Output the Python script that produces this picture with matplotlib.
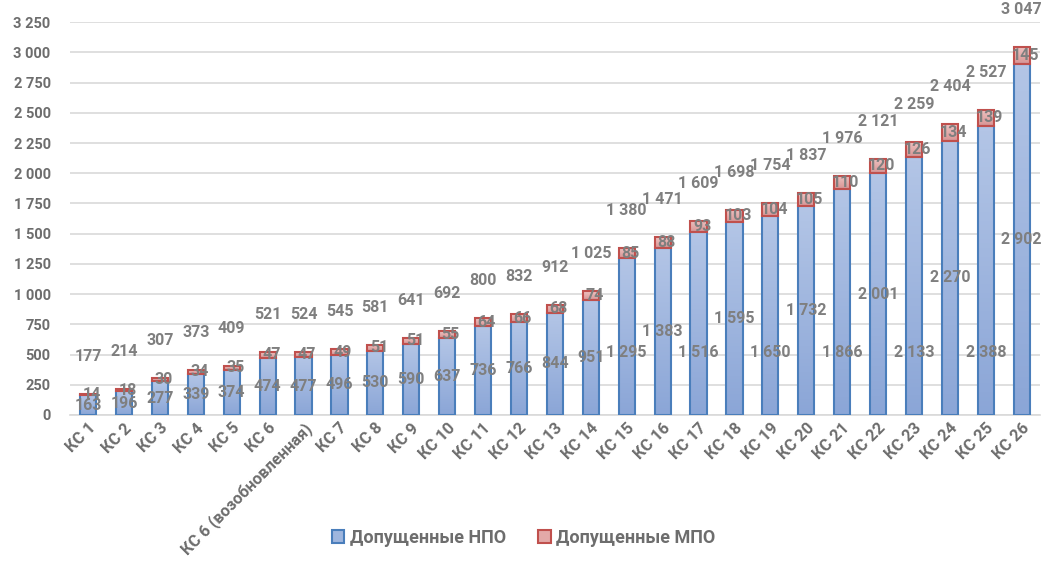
import matplotlib
matplotlib.use("Agg")
import matplotlib.pyplot as plt
import numpy as np
from matplotlib.colors import LinearSegmentedColormap
from matplotlib.ticker import FuncFormatter

plt.rcParams["font.family"] = ["Roboto", "DejaVu Sans"]

categories = ["КС 1", "КС 2", "КС 3", "КС 4", "КС 5", "КС 6", "КС 6 (возобновленная)",
              "КС 7", "КС 8", "КС 9", "КС 10", "КС 11", "КС 12", "КС 13", "КС 14",
              "КС 15", "КС 16", "КС 17", "КС 18", "КС 19", "КС 20", "КС 21", "КС 22",
              "КС 23", "КС 24", "КС 25", "КС 26"]
npo = [163, 196, 277, 339, 374, 474, 477, 496, 530, 590, 637, 736, 766, 844, 951,
       1295, 1383, 1516, 1595, 1650, 1732, 1866, 2001, 2133, 2270, 2388, 2902]
mpo = [14, 18, 30, 34, 35, 47, 47, 49, 51, 51, 55, 64, 66, 68, 74,
       85, 88, 93, 103, 104, 105, 110, 120, 126, 134, 139, 145]

npo = np.array(npo)
mpo = np.array(mpo)
total = npo + mpo
x = np.arange(len(categories))

gray = "#7f7f7f"
tick_gray = "#6d6d6d"


def fmt(v):
    return f"{int(v):,}".replace(",", " ")


fig = plt.figure(figsize=(10.47, 5.7), dpi=100)
ax = fig.add_axes([0.067, 0.272, 0.926, 0.689])

w = 0.45
blue_bars = ax.bar(x, npo, width=w, color="#9fb6de", edgecolor="#4a7ebb", linewidth=1.5,
                   label="Допущенные НПО", zorder=3)
red_bars = ax.bar(x, mpo, width=w, bottom=npo, color="#e3a9a8", edgecolor="#c0504d",
                  linewidth=1.5, label="Допущенные МПО", zorder=3)

# vertical gradient inside each bar, like the Excel fill
blue_grad = LinearSegmentedColormap.from_list("bg", ["#8ba6d7", "#b3c5e6"])
red_grad = LinearSegmentedColormap.from_list("rg", ["#d99594", "#eec3c2"])
grad = np.linspace(0, 1, 64).reshape(-1, 1)
for bars, cmap in [(blue_bars, blue_grad), (red_bars, red_grad)]:
    for b in bars:
        x0, y0 = b.get_x(), b.get_y()
        im = ax.imshow(grad, cmap=cmap, origin="lower", aspect="auto", zorder=3.5,
                       extent=[x0, x0 + b.get_width(), y0, y0 + b.get_height()])
        im.set_clip_path(b)
        b.set_facecolor("none")
        b.set_zorder(4)

label_kw = dict(ha="center", va="center", fontsize=11.5, fontweight="bold", color=gray, zorder=5)
for i in x:
    # blue labels: centred, every other one from KC 15 dropped lower (as in the source)
    yb = npo[i] / 2
    if i >= 15 and (i - 15) % 2 == 0:
        yb = 520
    ax.text(i, yb, fmt(npo[i]), **label_kw)
    ax.text(i + 0.1, npo[i] + mpo[i] / 2, fmt(mpo[i]), **label_kw)
    ax.annotate(fmt(total[i]), (i, total[i]), xytext=(0, 27), textcoords="offset points",
                **label_kw)

ax.set_ylim(0, 3250)
ax.set_xlim(-0.5, len(categories) - 0.5)
ax.set_yticks(np.arange(0, 3251, 250))
ax.yaxis.set_major_formatter(FuncFormatter(lambda v, p: fmt(v)))
ax.grid(axis="y", color="#d9d9d9", linewidth=1.2, zorder=0)
for s in ["top", "right", "left"]:
    ax.spines[s].set_visible(False)
ax.spines["bottom"].set_color("#d9d9d9")
ax.spines["bottom"].set_linewidth(1.2)
ax.tick_params(axis="y", length=0, colors=tick_gray, labelsize=10.5, pad=14)
ax.tick_params(axis="x", length=0, colors=tick_gray, labelsize=11.8, pad=4)
ax.set_xticks(x)
ax.set_xticklabels(categories, rotation=45, ha="right", rotation_mode="anchor",
                   fontweight="bold")
for t in ax.get_yticklabels():
    t.set_fontweight("bold")

leg = fig.legend(loc="center", bbox_to_anchor=(0.5, 0.056), ncol=2, frameon=False,
                 fontsize=13, handlelength=0.7, handleheight=0.7, columnspacing=1.8,
                 handletextpad=0.3)
leg.legend_handles[0].set_facecolor("#9fb6de")
leg.legend_handles[1].set_facecolor("#e3a9a8")
for t in leg.get_texts():
    t.set_color(tick_gray)
    t.set_fontweight("bold")

fig.savefig("out.png", dpi=100)
